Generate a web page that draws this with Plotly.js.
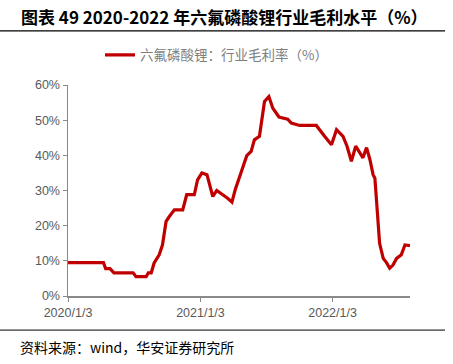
<!DOCTYPE html>
<html>
<head>
<meta charset="utf-8">
<script src="https://cdn.plot.ly/plotly-3.0.1.min.js"></script>
<style>
html,body{margin:0;padding:0;background:#fff;}
#chart{width:453px;height:364px;}
</style>
</head>
<body>
<div id="chart"></div>
<script>
var dates = [
 "2020-01-03","2020-04-10","2020-04-16","2020-04-28","2020-05-09","2020-07-01","2020-07-09","2020-08-06",
 "2020-08-12","2020-08-20","2020-08-28","2020-09-11","2020-09-20","2020-09-30","2020-10-09","2020-10-23",
 "2020-11-15","2020-11-26","2020-12-17","2020-12-26","2021-01-07","2021-01-21","2021-02-06","2021-02-17",
 "2021-03-19","2021-03-31","2021-04-09","2021-04-21","2021-04-30","2021-05-11","2021-05-23","2021-06-01",
 "2021-06-15","2021-06-29","2021-07-11","2021-07-22","2021-08-08","2021-09-01","2021-09-11","2021-10-04",
 "2021-11-19","2021-12-03","2021-12-12","2021-12-31","2022-01-14","2022-02-01","2022-02-12","2022-02-24",
 "2022-03-08","2022-03-28","2022-04-07","2022-04-16","2022-04-25","2022-04-30","2022-05-09","2022-05-13",
 "2022-05-23","2022-06-01","2022-06-10","2022-06-19","2022-06-29","2022-07-12","2022-07-22","2022-08-05"
];
var margin = [
 9.5,9.5,7.8,7.8,6.6,6.6,5.5,5.5,
 6.6,6.6,9.4,11.7,14.5,21.2,22.6,24.5,
 24.5,28.8,28.8,33.0,35.0,34.5,28.3,30.0,
 27.8,26.7,30.2,34.0,36.4,39.9,41.1,44.4,
 45.4,55.3,56.7,53.4,50.9,50.3,49.2,48.5,
 48.5,46.8,45.4,43.0,47.3,45.4,42.6,38.3,
 42.6,39.3,42.2,38.9,34.5,33.5,21.7,15.0,
 10.7,9.5,7.9,8.8,10.7,11.7,14.5,14.3
];
var tickVals = ["2020-01-03","2021-01-03","2022-01-03"];
var tickText = ["2020/1/3","2021/1/3","2022/1/3"];
var yTicks = [0,10,20,30,40,50,60];
var yTickText = ["0%","10%","20%","30%","40%","50%","60%"];
var seriesName = "六氟磷酸锂：行业毛利率（%）";
var titleText = "图表 49 2020-2022 年六氟磷酸锂行业毛利水平（%）";
var sourceText = "资料来源：wind，华安证券研究所";

var trace = {
  x: dates, y: margin, type: "scatter", mode: "lines", name: seriesName,
  line: {color: "#C00000", width: 3.2}
};
var layout = {
  width: 453, height: 364,
  margin: {l: 68, r: 43, t: 85, b: 68},
  paper_bgcolor: "#fff", plot_bgcolor: "#fff",
  showlegend: true,
  legend: {orientation: "h", x: 100/453, xref: "container", xanchor: "left", y: 1 - 55/364, yref: "container", yanchor: "middle",
           font: {family: "Noto Sans CJK SC", size: 13.5, color: "#7f7f7f"}, bgcolor: "rgba(0,0,0,0)"},
  xaxis: {type: "date", range: ["2020-01-03", "2022-08-05"], tickvals: tickVals, ticktext: tickText,
          showgrid: false, zeroline: false, showline: true, linecolor: "#898989", linewidth: 1.5,
          ticks: "outside", ticklen: 4, tickcolor: "#898989",
          tickfont: {family: "Liberation Sans, Arial", size: 12.5, color: "#595959"}},
  yaxis: {range: [0, 60], tickvals: yTicks, ticktext: yTickText, showgrid: false, zeroline: false,
          showline: true, linecolor: "#898989", linewidth: 1.5, ticks: "outside", ticklen: 4, tickcolor: "#898989",
          tickfont: {family: "Liberation Sans, Arial", size: 12.5, color: "#595959"}},
  shapes: [
    {type: "line", xref: "paper", yref: "paper", x0: -68/342, x1: 377/342, y0: 1 + 54/210.5, y1: 1 + 54/210.5,
     line: {color: "#000", width: 1.2}},
    {type: "line", xref: "paper", yref: "paper", x0: -68/342, x1: 377/342, y0: -34/210.5, y1: -34/210.5,
     line: {color: "#000", width: 1}}
  ],
  annotations: [
    {text: "<b>" + titleText + "</b>", xref: "paper", yref: "paper", x: -49/342, y: 1 + 68.5/210.5,
     xanchor: "left", yanchor: "middle", showarrow: false,
     font: {family: "Noto Sans CJK SC", size: 17, color: "#000"}},
    {text: sourceText, xref: "paper", yref: "paper", x: -50/342, y: -51/210.5,
     xanchor: "left", yanchor: "middle", showarrow: false,
     font: {family: "Noto Sans CJK SC", size: 14, color: "#000"}}
  ]
};
Plotly.newPlot("chart", [trace], layout, {displayModeBar: false, staticPlot: true});
</script>
</body>
</html>
